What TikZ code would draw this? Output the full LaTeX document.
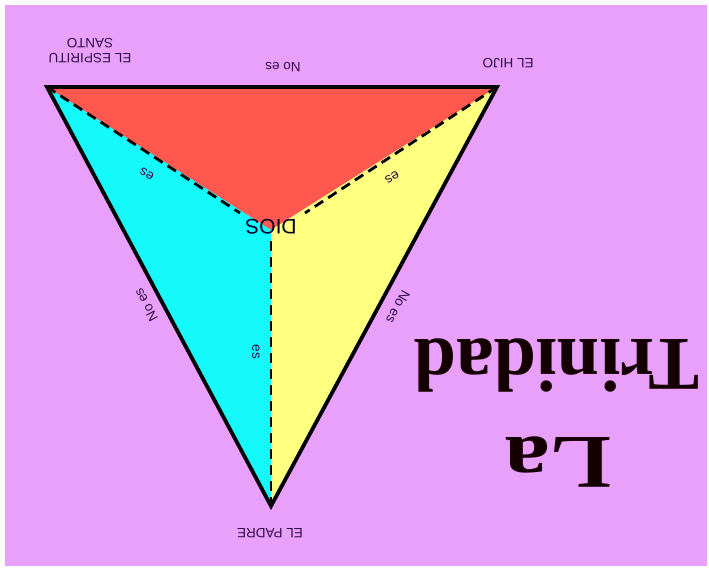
\documentclass[tikz,border=0pt]{standalone}
\usepackage{fontspec}
\setmainfont{Liberation Sans}
\newfontfamily\titlefont{Liberation Serif}
\definecolor{bgviolet}{RGB}{232,160,250}
\definecolor{redc}{RGB}{255,88,78}
\definecolor{cyanc}{RGB}{20,250,250}
\definecolor{yellowc}{RGB}{255,255,128}
\definecolor{labelcol}{RGB}{50,12,70}
\begin{document}
\begin{tikzpicture}[x=1pt,y=-1pt,
  lbl/.style={font=\fontsize{13.5}{15}\selectfont, text=labelcol, inner sep=1pt, align=center},
  dashline/.style={line width=2.8pt, dash pattern=on 10pt off 6pt, black},
  edge/.style={line width=3.8pt, black, line join=miter},
  title/.style={font=\titlefont\bfseries\fontsize{76}{80}\selectfont, text=black!92!red, rotate=180, inner sep=0pt}]
\useasboundingbox (0,0) rectangle (709,569);
\fill[white] (0,0) rectangle (709,569);
\fill[bgviolet] (5,5) rectangle (707,566);
% vertices
\coordinate (tl) at (47,87);
\coordinate (tr) at (497,87);
\coordinate (bt) at (271,506);
\coordinate (c) at (271,230);
\coordinate (dl) at (240,213);
\coordinate (dr) at (305,213);
\coordinate (dv) at (271,241);
% regions
\fill[redc] (tl) -- (tr) -- (c) -- cycle;
\fill[cyanc] (tl) -- (c) -- (bt) -- cycle;
\fill[yellowc] (tr) -- (c) -- (bt) -- cycle;
% dashed
\draw[dashline] (tl) -- (dl);
\draw[dashline] (tr) -- (dr);
\draw[dashline] (dv) -- (bt);
% edges
\draw[edge] (tl) -- (tr) -- (bt) -- cycle;
% labels
\node[font=\fontsize{21}{23}\selectfont, text=black!85!blue, rotate=180, inner sep=0pt] (dios) at (271,227) {DIOS};
\node[lbl, rotate=180] (espiritu) at (90,51) {EL ESPIRITU\\SANTO};
\node[lbl, rotate=180] (hijo) at (508,63) {EL HIJO};
\node[lbl, rotate=180] (padre) at (270,533) {EL PADRE};
\node[lbl, rotate=180] (noestop) at (283,67) {No es};
\node[lbl, rotate=118.2] (noesleft) at (146,305) {No es};
\node[lbl, rotate=241.6] (noesright) at (398,307) {No es};
\node[lbl, rotate=149.7] (esleft) at (147,174) {es};
\node[lbl, rotate=210.1] (esright) at (392,177) {es};
\node[lbl, rotate=270] (esvert) at (256,352) {es};
% title
\node[title] (trinidad) at (557,365) {Trinidad};
\node[title, xscale=1.2] (la) at (558,462) {La};
\end{tikzpicture}
\end{document}
